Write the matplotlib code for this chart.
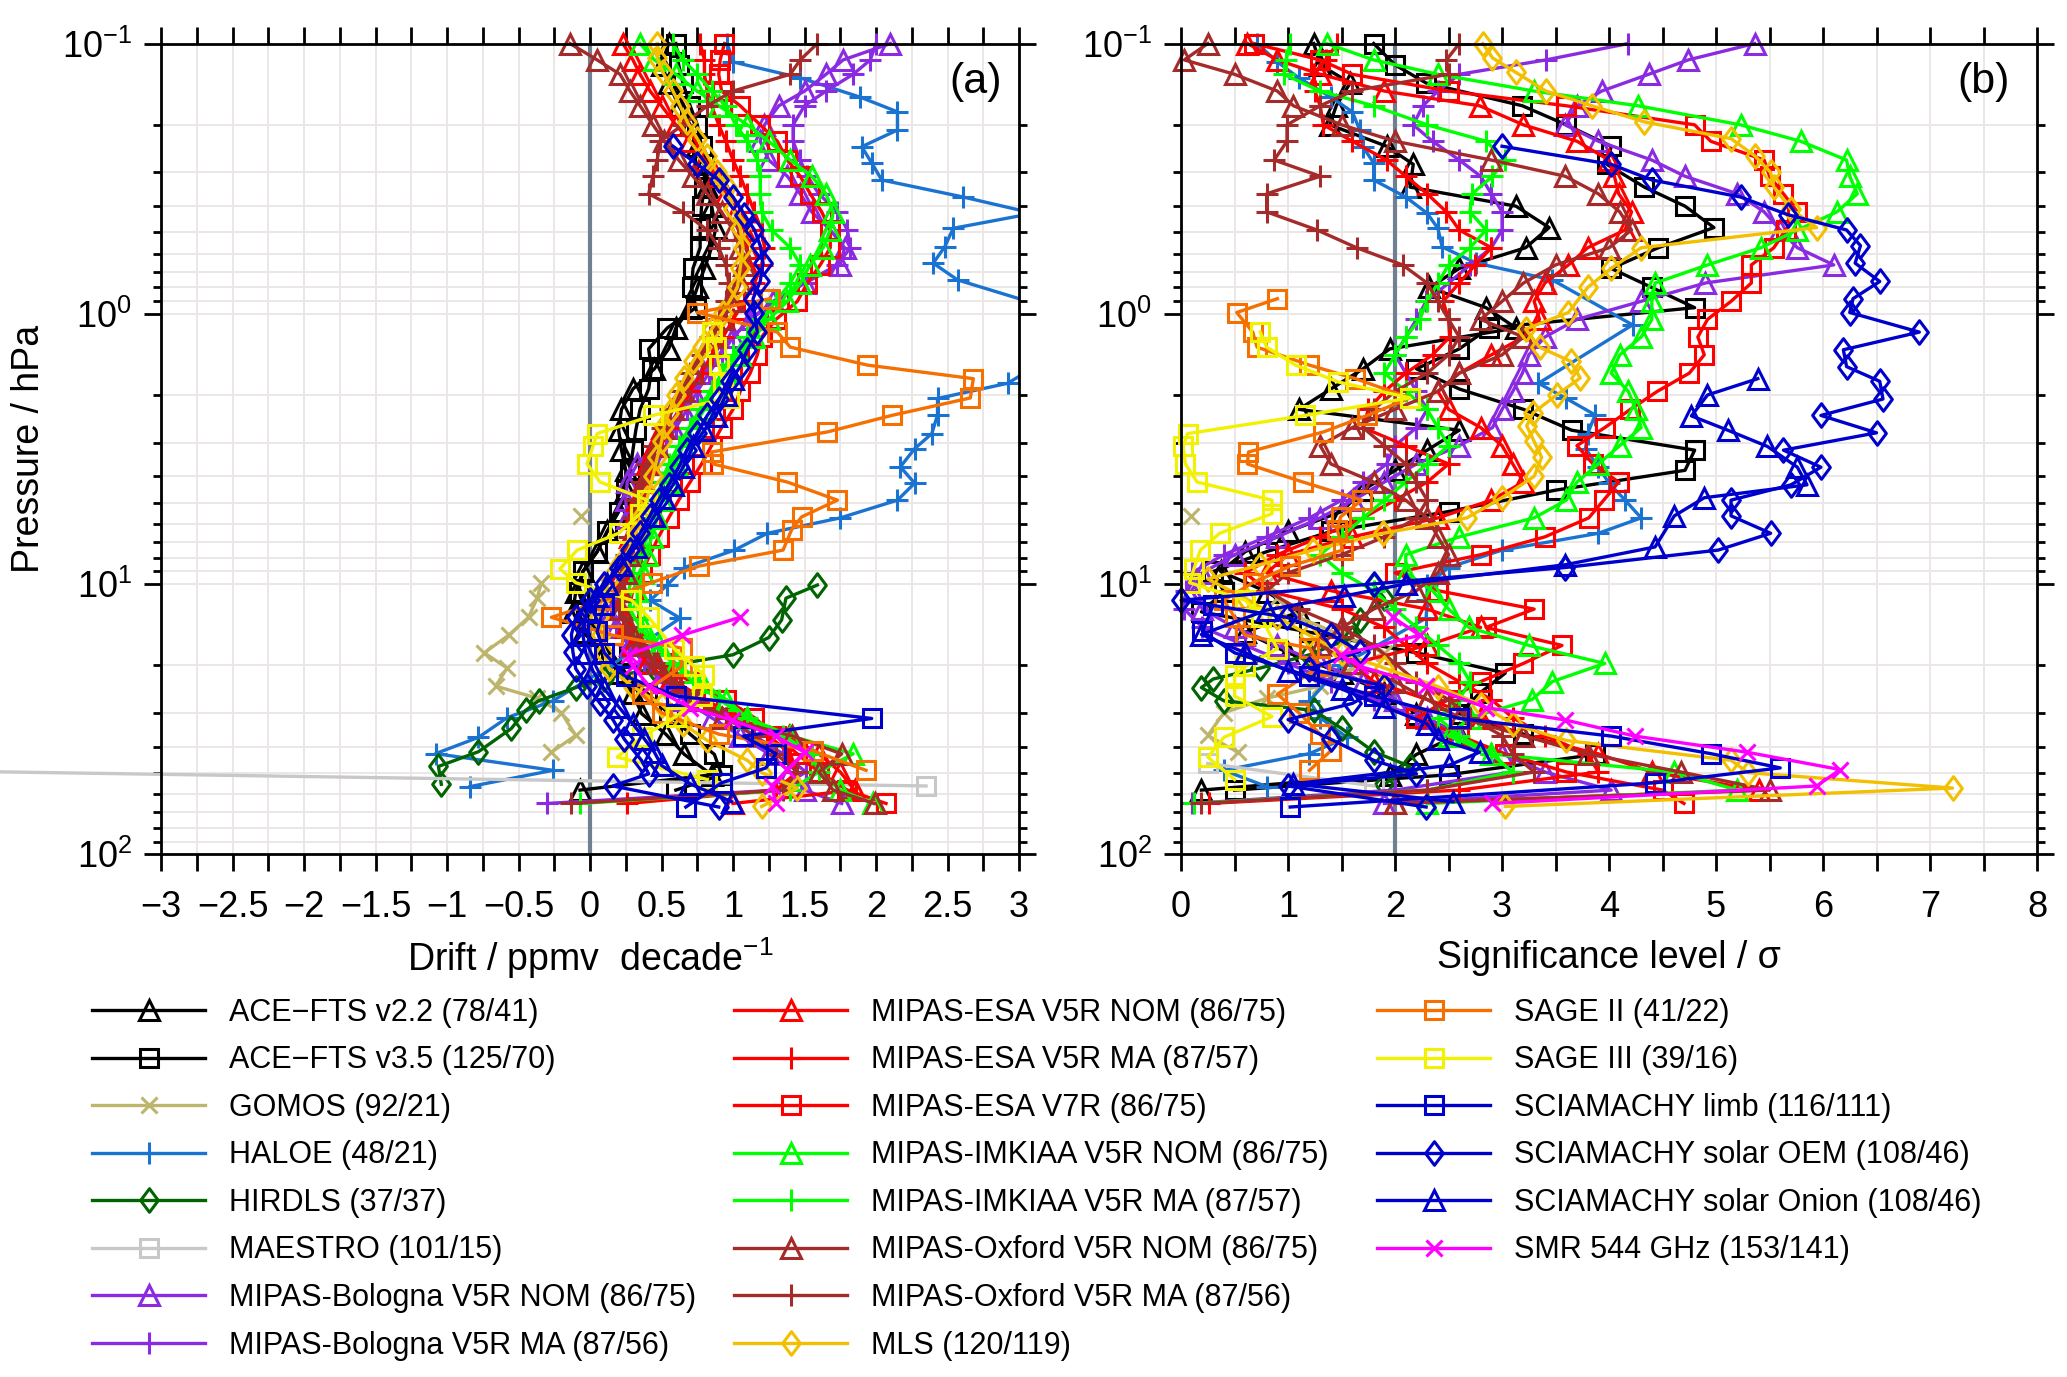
import matplotlib
matplotlib.use('Agg')
import matplotlib.pyplot as plt
import numpy as np
from matplotlib.path import Path
from matplotlib.patches import Rectangle
from matplotlib.ticker import MultipleLocator, FuncFormatter, NullFormatter, LogLocator

nan = np.nan

# MIPAS retrieval levels (hPa), shared by all MIPAS products
p_mipas = [0.1, 0.115, 0.13, 0.15, 0.17, 0.2, 0.23, 0.27, 0.31, 0.36,
           0.42, 0.49, 0.57, 0.66, 0.77, 0.9, 1.05, 1.22, 1.42, 1.66,
           1.94, 2.26, 2.64, 3.08, 3.6, 4.2, 4.9, 5.7, 6.7, 7.8,
           9.1, 10.6, 12.4, 14.5, 16.9, 19.7, 23, 26.8, 31.3, 36.5,
           42.6, 49.7, 58, 65]

# ACE-FTS levels (hPa)
p_ace = [0.1, 0.12, 0.14, 0.17, 0.2, 0.24, 0.28, 0.34, 0.4, 0.48,
         0.57, 0.68, 0.8, 0.95, 1.13, 1.35, 1.6, 1.9, 2.26, 2.7,
         3.2, 3.8, 4.5, 5.4, 6.4, 7.6, 9.0, 10.7, 12.7, 15.1,
         18, 21.4, 25.4, 30.2, 36, 42.8, 50.9, 58]

# drift (ppmv/decade) and significance (sigma) per instrument
ace22_drift = [0.55, 0.5, 0.55, 0.62, 0.7, 0.75, 0.8, 0.82, 0.85, 0.88,
               0.85, 0.8, 0.75, 0.7, 0.6, 0.55, 0.45, 0.3, 0.22, 0.2,
               0.22, 0.25, 0.25, 0.2, 0.12, 0.05, -0.05, -0.1, -0.12, -0.05,
               0.1, 0.2, 0.3, 0.36, 0.53, 0.66, 0.85, -0.07]
ace22_sig = [1.24, 1.3, 1.58, 1.45, 1.39, 1.92, 2.17, 2.14, 3.13, 3.44,
             3.22, 2.6, 2.32, 2.85, 3.13, 1.95, 1.7, 1.4, 1.1, 2.6,
             2.3, 2.0, 1.7, 1.5, 1.0, 0.6, 0.37, 0.8, 1.1, 0.6,
             1.0, 1.5, 1.9, 2.2, 2.6, 2.2, 1.95, 0.19]

ace35_drift = [0.6, 0.62, 0.65, 0.7, 0.75, 0.78, 0.8, 0.8, 0.78, 0.77,
               0.77, 0.72, 0.71, 0.74, 0.54, 0.41, 0.43, 0.41, 0.35, 0.32,
               0.3, 0.28, 0.25, 0.2, 0.12, 0.05, -0.05, -0.08, -0.03, 0.05,
               0.15, 0.25, 0.4, 0.55, 0.7, 0.87, 0.92, 0.6]
ace35_sig = [1.8, 2.0, 2.29, 3.19, 3.6, 4.02, 3.98, 4.33, 4.71, 4.98,
             4.46, 4.02, 4.4, 4.8, 2.88, 2.6, 2.2, 2.6, 3.2, 3.65,
             4.8, 4.71, 3.5, 2.5, 1.4, 0.8, 0.3, 0.4, 0.19, 1.2,
             2.2, 3.03, 2.79, 2.6, 3.2, 3.87, 2.5, 0.5]

p_gomos = [5.6, 7.5, 9.9, 11.3, 13.3, 15.5, 18, 20.5, 23.9, 26.5, 30, 36.4, 42]
gomos_drift = [-0.06, nan, -0.34, -0.37, -0.43, -0.57, -0.74, -0.58, -0.66, -0.37, -0.2, -0.1, -0.27]
gomos_sig = [0.09, nan, 0.8, 0.9, 1.1, 1.5, 1.9, 1.6, 1.3, 0.8, 0.4, 0.25, 0.53]

p_haloe = [0.1, 0.117, 0.134, 0.158, 0.179, 0.209, 0.241, 0.277, 0.32, 0.37,
           0.425, 0.483, 0.566, 0.65, 0.75, 1.1, 1.81, 2.06, 2.37, 2.78,
           3.16, 3.69, 4.24, 4.9, 5.7, 6.5, 7.5, 8.7, 10.1, 11.5,
           13.4, 20, 27.1, 31.3, 37, 42.5, 49, 56.3]
haloe_drift = [0.96, 1.0, 1.47, 1.89, 2.15, 2.15, 1.9, 1.97, 2.04, 2.61,
               3.1, 2.54, 2.48, 2.4, 2.57, 3.6, 2.92, 2.43, 2.43, 2.39,
               2.27, 2.17, 2.27, 2.15, 1.75, 1.24, 1.01, 0.66, 0.54, 0.42,
               0.63, 0.15, -0.26, -0.58, -0.78, -1.08, -0.26, -0.84]
haloe_sig = [0.71, 0.9, 1.1, 1.4, 1.6, 1.67, 1.7, 1.8, 1.8, 2.1,
             2.3, 2.4, 2.44, 2.76, 3.47, 4.22, 3.34, 3.6, 3.87, 3.8,
             3.78, 3.9, 4.0, 4.15, 4.3, 3.9, 3.0, 2.5, 2.3, 2.3,
             2.29, 1.5, 1.2, 1.3, 1.55, 1.2, 0.4, 0.8]

p_hirdls = [10.1, 11.3, 13.6, 15.8, 18.3, 20.5, 22.5, 24.2, 27.1, 29.4, 34.3, 41.8, 47.4, 55.2]
hirdls_drift = [1.59, 1.37, 1.34, 1.25, 1.0, 0.45, 0.1, -0.1, -0.36, -0.45, -0.55, -0.78, -1.06, -1.04]
hirdls_sig = [1.8, 1.9, 1.67, 1.6, 1.2, 0.74, 0.3, 0.19, 0.4, 1.24, 1.5, 1.8, 2.14, 1.9]

p_maestro = [46.2, 56]
maestro_drift = [-8.0, 2.35]
maestro_sig = [0.25, 1.8]

bol_nom_drift = [2.1, 1.77, 1.65, 1.5, 1.32, 1.22, 1.19, 1.25, 1.38, 1.47,
                 1.55, 1.68, 1.78, 1.75, 1.5, 1.28, 1.12, 1.0, 0.9, 0.8,
                 0.72, 0.65, 0.58, 0.45, 0.33, 0.26, 0.25, 0.26, 0.28, 0.28,
                 0.25, 0.2, 0.16, 0.18, 0.28, 0.38, 0.5, 0.65, 0.85, 1.05,
                 1.25, 1.4, 1.5, 1.76]
bol_nom_sig = [5.36, 4.74, 4.37, 3.93, 3.7, 3.59, 3.9, 4.4, 4.71, 5.2,
               5.45, 5.6, 5.76, 6.1, 4.9, 4.3, 3.7, 3.4, 3.25, 3.19,
               3.1, 3.0, 2.91, 2.6, 2.2, 1.9, 1.61, 1.3, 0.9, 0.5,
               0.2, 0.1, 0.2, 0.5, 0.9, 1.3, 1.7, 2.0, 2.3, 2.6,
               3.0, 3.4, 4.02, 1.9]

bol_ma_drift = [2.0, 1.96, 1.84, 1.65, 1.5, 1.42, 1.42, 1.47, 1.52, 1.6,
                1.73, 1.8, 1.82, 1.73, 1.5, 1.3, 1.12, 1.0, 0.92, 0.83,
                0.75, 0.68, 0.6, 0.53, 0.47, 0.42, 0.37, 0.33, 0.3, 0.27,
                0.23, 0.2, 0.15, 0.18, 0.27, 0.38, 0.52, 0.72, 0.95, 1.15,
                1.35, 1.51, 1.3, -0.3]
bol_ma_sig = [4.18, 3.41, 2.6, 2.4, 2.26, 2.17, 2.35, 2.6, 2.8, 2.9,
              3.0, 3.0, 2.9, 2.7, 2.5, 2.29, 2.2, 2.1, 2.0, 2.1,
              2.2, 2.3, 2.2, 2.0, 1.92, 1.7, 1.5, 1.2, 0.8, 0.4,
              0.1, 0.05, 0.03, 0.2, 0.6, 1.0, 1.4, 1.8, 2.2, 2.5,
              2.9, 3.1, 2.0, 0.1]

esa_nom_drift = [0.23, 0.3, 0.35, 0.42, 0.5, 0.6, 0.7, 0.8, 0.88, 0.95,
                 1.02, 1.08, 1.1, 1.1, 1.05, 0.98, 0.92, 0.85, 0.78, 0.72,
                 0.65, 0.58, 0.5, 0.45, 0.4, 0.37, 0.33, 0.3, 0.28, 0.25,
                 0.22, 0.2, 0.2, 0.25, 0.3, 0.4, 0.55, 0.75, 1.0, 1.39,
                 1.6, 1.75, 1.85, 1.0]
esa_nom_sig = [0.62, 0.9, 1.3, 1.9, 2.79, 3.2, 3.7, 4.0, 4.05, 4.09,
               4.21, 4.15, 3.8, 3.62, 3.4, 3.3, 3.35, 3.2, 2.9, 2.6,
               2.4, 2.5, 2.8, 3.0, 3.1, 3.2, 2.9, 2.4, 1.6, 1.0,
               0.8, 1.4, 2.3, 2.8, 2.3, 1.6, 1.8, 2.3, 2.8, 3.2,
               3.9, 4.4, 5.4, 2.0]

esa_ma_drift = [0.77, 0.8, 0.8, 0.82, 0.85, 0.9, 0.95, 1.0, 1.05, 1.1,
                1.15, 1.2, 1.22, 1.2, 1.15, 1.08, 1.0, 0.93, 0.85, 0.78,
                0.7, 0.63, 0.55, 0.5, 0.45, 0.4, 0.37, 0.33, 0.3, 0.28,
                0.25, 0.22, 0.22, 0.27, 0.35, 0.45, 0.6, 0.8, 1.05, 1.25,
                1.4, 1.45, 1.3, 0.26]
esa_ma_sig = [1.46, 1.35, 1.24, 1.25, 1.3, 1.33, 1.6, 1.92, 2.1, 2.3,
              2.48, 2.6, 2.9, 2.75, 2.6, 2.45, 2.5, 2.51, 2.35, 2.1,
              1.9, 1.75, 1.7, 2.1, 2.5, 2.3, 2.0, 1.7, 1.3, 0.9,
              0.6, 0.8, 1.5, 1.9, 2.1, 2.3, 2.6, 2.9, 3.1, 3.4,
              3.8, 3.9, 2.6, 0.26]

esa_v7_drift = [0.94, 0.91, 0.9, 0.92, 1.05, 1.19, 1.31, 1.38, 1.47, 1.54,
                1.62, 1.68, 1.68, 1.61, 1.52, 1.45, 1.3, 1.2, 1.17, 1.12,
                1.05, 1.0, 0.92, 0.85, 0.78, 0.7, 0.62, 0.55, 0.48, 0.42,
                0.36, 0.3, 0.27, 0.3, 0.37, 0.5, 0.7, 0.95, 1.15, 1.3,
                1.45, 1.6, 1.8, 2.07]
esa_v7_sig = [0.68, 1.3, 1.6, 2.5, 3.6, 4.8, 4.95, 5.45, 5.5, 5.63,
              5.76, 5.65, 5.54, 5.33, 5.33, 5.14, 4.92, 4.83, 4.89, 4.75,
              4.45, 4.2, 3.96, 3.7, 3.85, 4.09, 3.95, 3.81, 3.4, 2.8,
              2.0, 2.4, 3.3, 2.85, 3.56, 3.2, 2.8, 2.5, 2.2, 2.6,
              3.03, 3.6, 4.5, 4.7]

imk_nom_drift = [0.35, 0.45, 0.6, 0.75, 0.9, 1.1, 1.25, 1.4, 1.55, 1.65,
                 1.7, 1.68, 1.63, 1.54, 1.47, 1.38, 1.25, 1.15, 1.05, 0.95,
                 0.87, 0.8, 0.72, 0.65, 0.6, 0.55, 0.5, 0.47, 0.43, 0.4,
                 0.37, 0.33, 0.33, 0.38, 0.48, 0.6, 0.78, 0.95, 1.1, 1.4,
                 1.84, 1.6, 1.75, 1.98]
imk_nom_sig = [1.36, 1.8, 2.4, 3.3, 4.27, 5.23, 5.79, 6.22, 6.25, 6.32,
               6.13, 5.76, 5.42, 4.92, 4.43, 4.4, 4.4, 4.3, 4.1, 4.02,
               4.18, 4.25, 4.3, 4.1, 3.9, 3.7, 3.6, 3.3, 2.6, 2.1,
               2.1, 2.35, 2.5, 2.69, 3.25, 3.96, 3.47, 3.28, 2.7, 2.5,
               2.9, 4.61, 5.2, 2.3]

imk_ma_drift = [0.58, 0.65, 0.75, 0.85, 0.95, 1.02, 1.1, 1.17, 1.19, 1.19,
                1.2, 1.27, 1.4, 1.47, 1.4, 1.3, 1.2, 1.1, 1.0, 0.92,
                0.85, 0.77, 0.7, 0.62, 0.55, 0.5, 0.46, 0.42, 0.38, 0.34,
                0.3, 0.27, 0.28, 0.35, 0.45, 0.58, 0.72, 0.9, 1.1, 1.35,
                1.55, 1.6, 1.4, -0.07]
imk_ma_sig = [1.02, 0.98, 0.96, 1.3, 1.8, 2.3, 2.85, 3.03, 2.91, 2.72,
              2.7, 2.85, 2.7, 2.5, 2.4, 2.3, 2.23, 2.1, 2.0, 1.9,
              2.1, 2.3, 2.4, 2.5, 2.3, 2.1, 1.9, 1.7, 1.5, 1.3,
              1.5, 1.8, 2.0, 2.2, 2.4, 2.6, 2.7, 2.6, 2.4, 2.6,
              2.9, 3.1, 2.3, 0.12]

oxf_nom_drift = [-0.14, 0.05, 0.21, 0.28, 0.35, 0.44, 0.52, 0.62, 0.72, 0.82,
                 0.92, 1.0, 1.05, 1.08, 1.05, 1.0, 0.93, 0.85, 0.78, 0.72,
                 0.65, 0.58, 0.52, 0.47, 0.42, 0.38, 0.35, 0.32, 0.3, 0.27,
                 0.25, 0.22, 0.22, 0.27, 0.35, 0.47, 0.6, 0.75, 0.92, 1.41,
                 1.76, 1.6, 1.7, 1.99]
oxf_nom_sig = [0.25, 0.03, 0.5, 0.9, 1.05, 1.5, 2.0, 2.9, 3.59, 3.9,
               4.1, 4.21, 4.0, 3.5, 3.2, 3.0, 2.8, 3.2, 3.0, 2.6,
               2.4, 2.0, 1.6, 1.3, 1.4, 1.8, 2.1, 2.3, 2.4, 2.5,
               2.4, 2.2, 1.8, 1.5, 1.3, 1.6, 2.0, 2.3, 2.6, 3.2,
               3.8, 4.67, 5.5, 2.0]

oxf_ma_drift = [1.59, 1.47, 1.4, 1.0, 0.82, 0.65, 0.49, 0.47, 0.44, 0.41,
                0.65, 0.82, 0.9, 0.95, 0.97, 0.95, 0.9, 0.84, 0.78, 0.7,
                0.63, 0.56, 0.5, 0.45, 0.4, 0.36, 0.32, 0.3, 0.27, 0.25,
                0.22, 0.2, 0.2, 0.25, 0.33, 0.45, 0.58, 0.75, 0.95, 1.15,
                1.3, 1.45, 1.35, -0.13]
oxf_ma_sig = [2.6, 2.48, 2.5, 1.6, 1.3, 0.99, 0.99, 0.87, 1.3, 0.8,
              0.8, 1.27, 1.64, 2.07, 2.3, 2.4, 2.5, 2.6, 2.5, 2.3,
              2.0, 1.8, 1.7, 1.9, 2.1, 2.2, 2.3, 2.2, 1.9, 1.5,
              1.0, 0.8, 1.1, 1.5, 1.8, 2.0, 2.2, 2.5, 2.7, 3.0,
              3.1, 3.3, 2.3, 0.19]

p_mls = [0.1, 0.113, 0.128, 0.15, 0.17, 0.195, 0.225, 0.26, 0.3, 0.34,
         0.41, 0.48, 0.57, 0.68, 0.8, 0.99, 1.14, 1.33, 1.5, 1.73,
         2.0, 2.33, 2.6, 2.97, 3.4, 4.0, 4.8, 5.7, 6.5, 7.5,
         8.5, 9.6, 11.3, 13.3, 15.5, 18, 20.5, 24, 28, 33,
         38, 45, 50, 57, 66.7]
mls_drift = [0.47, 0.47, 0.51, 0.58, 0.63, 0.68, 0.75, 0.82, 0.89, 0.96,
             1.0, 1.05, 1.07, 1.05, 1.03, 0.93, 0.85, 0.78, 0.72, 0.66,
             0.6, 0.55, 0.52, 0.5, 0.47, 0.44, 0.4, 0.35, 0.32, 0.27,
             0.2, 0.14, 0.08, 0.06, 0.08, 0.1, 0.13, 0.3, 0.5, 0.65,
             0.82, 1.1, 1.2, 1.45, 1.2]
mls_sig = [2.82, 2.91, 3.13, 3.41, 3.84, 4.33, 5.14, 5.36, 5.51, 5.54,
           5.7, 5.94, 4.3, 4.02, 3.8, 3.62, 3.22, 3.35, 3.64, 3.73,
           3.51, 3.29, 3.23, 3.3, 3.37, 3.3, 3.0, 2.67, 1.89, 1.23,
           0.74, 0.25, 0.6, 0.9, 1.2, 1.5, 1.9, 2.4, 2.8, 3.1,
           3.6, 5.14, 5.3, 7.21, 3.03]

p_sage2 = [0.88, 0.99, 1.17, 1.33, 1.55, 1.74, 2.05, 2.38, 2.74, 3.25,
           3.6, 4.2, 4.9, 5.65, 6.3, 7.5, 8.6, 9.9, 11.5, 13.3,
           15.5, 17.3, 20.2, 25.6, 30, 36, 41.5, 49]
sage2_drift = [1.26, 0.75, 1.31, 1.4, 1.94, 2.68, 2.66, 2.11, 1.66, 0.85,
               0.86, 1.38, 1.73, 1.48, 1.41, 1.35, 0.76, 0.43, 0.1, -0.27,
               0.16, 0.64, 0.64, 0.36, 0.5, 0.9, 1.56, 1.93]
sage2_sig = [0.9, 0.52, 0.67, 0.71, 1.2, 1.63, 2.14, 1.74, 1.33, 0.63,
             0.62, 1.14, 1.69, 1.49, 1.46, 1.51, 1.02, 0.67, 0.4, 0.5,
             0.6, 1.2, 1.3, 0.9, 1.1, 1.3, 1.4, 1.2]

p_sage3 = [1.17, 1.33, 1.55, 1.79, 2.05, 2.38, 2.78, 3.1, 3.6, 4.2,
           4.9, 5.5, 6.5, 7.5, 8.8, 9.9, 11.5, 13.3, 17.4, 20.2,
           21.8, 26, 31, 37, 43.8, 53]
sage3_drift = [0.85, 0.88, 0.9, 0.93, 0.97, 0.44, 0.05, 0.02, -0.02, 0.07,
               0.4, 0.35, 0.2, -0.09, -0.21, -0.1, 0.29, 0.41, 0.59, 0.73,
               0.8, 0.78, 0.6, 0.36, 0.19, 0.82]
sage3_sig = [0.74, 0.8, 1.07, 1.47, 2.14, 1.16, 0.06, 0.02, 0.04, 0.15,
             0.85, 0.85, 0.36, 0.18, 0.12, 0.08, 0.6, 0.75, 0.9, 0.6,
             0.5, 0.5, 0.85, 0.4, 0.25, 0.5]

p_limb = [12, 15, 18, 22, 26, 31.5, 36.6, 42.5, 48, 54.5, 67]
limb_drift = [0.1, 0.05, 0.1, 0.25, 0.6, 1.97, 1.07, 1.3, 1.23, 0.92, 0.67]
limb_sig = [0.3, 0.2, 0.5, 1.2, 1.8, 2.6, 4.02, 4.95, 5.6, 4.43, 1.02]

p_oem = [0.24, 0.28, 0.32, 0.37, 0.43, 0.49, 0.56, 0.65, 0.76, 0.88,
         0.99, 1.17, 1.36, 1.57, 1.78, 2.07, 2.38, 2.76, 3.2, 3.7,
         4.3, 4.9, 5.6, 6.5, 7.5, 8.7, 10, 11.5, 13.3, 15.4,
         17.8, 20.6, 23.9, 27.7, 31.8, 37.6, 45, 50.5, 56, 67]
oem_drift = [0.58, 0.75, 0.9, 1.0, 1.08, 1.15, 1.19, 1.21, 1.19, 1.14,
             1.15, 1.17, 1.1, 1.05, 0.98, 0.9, 0.82, 0.75, 0.68, 0.62,
             0.55, 0.48, 0.42, 0.35, 0.28, 0.2, 0.1, 0.0, -0.1, -0.13,
             -0.12, -0.1, -0.02, 0.07, 0.16, 0.24, 0.36, 0.41, 0.16, 0.9]
oem_sig = [3.0, 4.02, 4.4, 5.23, 5.67, 6.22, 6.35, 6.3, 6.53, 6.28,
           6.25, 6.9, 6.19, 6.22, 6.53, 6.56, 5.98, 6.5, 5.63, 5.98,
           5.7, 5.14, 5.14, 5.51, 5.02, 3.59, 1.8, 0.0, 0.99, 1.4,
           1.67, 1.2, 1.9, 1.6, 1.0, 1.4, 1.8, 2.2, 1.0, 2.29]

p_onion = [1.74, 2.0, 2.39, 2.7, 3.1, 3.7, 4.3, 4.8, 5.6, 7.3,
           8.5, 10, 11.1, 12.5, 15.4, 18, 21, 24.5, 28.5, 33,
           37.5, 42, 47, 55, 64]
onion_drift = [1.0, 0.95, 0.88, 0.8, 0.72, 0.65, 0.58, 0.52, 0.45, 0.32,
               0.22, 0.12, 0.05, -0.02, -0.05, -0.03, 0.02, 0.1, 0.2, 0.3,
               0.38, 0.45, 0.5, 0.7, 0.99]
onion_sig = [5.39, 4.92, 4.77, 5.11, 5.48, 5.76, 5.85, 4.89, 4.61, 4.43,
             3.59, 2.1, 1.52, 0.8, 0.19, 0.6, 1.0, 1.5, 1.9, 2.3,
             2.4, 2.79, 2.5, 1.05, 2.54]

p_smr = [13.3, 15.5, 18.3, 20.2, 23.8, 28.7, 31.9, 36.6, 42, 48.7, 56, 65]
smr_drift = [1.05, 0.64, 0.27, 0.3, 0.41, 0.7, 0.99, 1.3, 1.5, 1.38, 1.27, 1.3]
smr_sig = [1.98, 2.23, 1.49, 1.67, 2.29, 2.85, 3.59, 4.24, 5.29, 6.16, 5.94, 2.91]

# 菱形マーカー (縦長)
DIAMOND = Path([(0, 1), (0.75, 0), (0, -1), (-0.75, 0), (0, 1)],
               [Path.MOVETO, Path.LINETO, Path.LINETO, Path.LINETO, Path.CLOSEPOLY])

C_SCIA = '#0000cd'


def fmt_tick(v, pos):
    return f'{v:g}'.replace('-', '\u2212')


def main():
    plt.rcParams['font.family'] = ['Liberation Sans', 'DejaVu Sans']
    plt.rcParams['mathtext.fontset'] = 'custom'
    plt.rcParams['mathtext.rm'] = 'Liberation Sans'
    plt.rcParams['mathtext.it'] = 'Liberation Sans:italic'

    # (label, pressure, drift, sigma, colour, marker, size, clip x)
    series = [
        ('ACE\u2212FTS v2.2 (78/41)', p_ace, ace22_drift, ace22_sig, 'black', '^', 15, False),
        ('ACE\u2212FTS v3.5 (125/70)', p_ace, ace35_drift, ace35_sig, 'black', 's', 12.5, False),
        ('GOMOS (92/21)', p_gomos, gomos_drift, gomos_sig, '#bdb56c', 'x', 11, False),
        ('HALOE (48/21)', p_haloe, haloe_drift, haloe_sig, '#1a73d0', '+', 16, True),
        ('HIRDLS (37/37)', p_hirdls, hirdls_drift, hirdls_sig, '#006400', DIAMOND, 17, False),
        ('MAESTRO (101/15)', p_maestro, maestro_drift, maestro_sig, '#c8c8c8', 's', 12.5, False),
        ('MIPAS-Bologna V5R NOM (86/75)', p_mipas, bol_nom_drift, bol_nom_sig, '#8a2be2', '^', 15, False),
        ('MIPAS-Bologna V5R MA (87/56)', p_mipas, bol_ma_drift, bol_ma_sig, '#8a2be2', '+', 16, False),
        ('MIPAS-ESA V5R NOM (86/75)', p_mipas, esa_nom_drift, esa_nom_sig, '#ff0000', '^', 15, False),
        ('MIPAS-ESA V5R MA (87/57)', p_mipas, esa_ma_drift, esa_ma_sig, '#ff0000', '+', 16, False),
        ('MIPAS-ESA V7R (86/75)', p_mipas, esa_v7_drift, esa_v7_sig, '#ff0000', 's', 12.5, False),
        ('MIPAS-IMKIAA V5R NOM (86/75)', p_mipas, imk_nom_drift, imk_nom_sig, '#00ff00', '^', 15, False),
        ('MIPAS-IMKIAA V5R MA (87/57)', p_mipas, imk_ma_drift, imk_ma_sig, '#00ff00', '+', 16, False),
        ('MIPAS-Oxford V5R NOM (86/75)', p_mipas, oxf_nom_drift, oxf_nom_sig, '#a52a2a', '^', 15, False),
        ('MIPAS-Oxford V5R MA (87/56)', p_mipas, oxf_ma_drift, oxf_ma_sig, '#a52a2a', '+', 16, False),
        ('MLS (120/119)', p_mls, mls_drift, mls_sig, '#f2c000', DIAMOND, 17, False),
        ('SAGE II (41/22)', p_sage2, sage2_drift, sage2_sig, '#f57000', 's', 12.5, False),
        ('SAGE III (39/16)', p_sage3, sage3_drift, sage3_sig, '#f2f200', 's', 12.5, False),
        ('SCIAMACHY limb (116/111)', p_limb, limb_drift, limb_sig, C_SCIA, 's', 12.5, False),
        ('SCIAMACHY solar OEM (108/46)', p_oem, oem_drift, oem_sig, C_SCIA, DIAMOND, 17, False),
        ('SCIAMACHY solar Onion (108/46)', p_onion, onion_drift, onion_sig, C_SCIA, '^', 15, False),
        ('SMR 544 GHz (153/141)', p_smr, smr_drift, smr_sig, '#ff00ff', 'x', 11, False),
    ]

    fig = plt.figure(figsize=(20.67, 13.77), dpi=100)
    ax_a = fig.add_axes([0.0779, 0.3798, 0.4151, 0.5886])
    ax_b = fig.add_axes([0.5714, 0.3798, 0.4141, 0.5886])

    for ax in (ax_a, ax_b):
        ax.set_yscale('log')
        ax.set_ylim(100, 0.1)
        ax.yaxis.set_major_locator(LogLocator(base=10, numticks=10))
        ax.yaxis.set_minor_locator(LogLocator(base=10, subs=np.arange(2, 10), numticks=10))
        ax.yaxis.set_minor_formatter(NullFormatter())
        ax.xaxis.set_major_formatter(FuncFormatter(fmt_tick))
        ax.grid(True, which='both', color='#ebe5e5', linewidth=1.3)
        ax.set_axisbelow(True)
        ax.tick_params(which='both', direction='out', top=True, right=True, width=2, labelsize=26)
        ax.tick_params(axis='x', which='both', length=12, pad=14)
        ax.tick_params(axis='y', which='major', length=12, pad=9)
        ax.tick_params(axis='y', which='minor', length=6)
        for sp in ax.spines.values():
            sp.set_linewidth(2)

    ax_a.set_xlim(-3, 3)
    ax_a.xaxis.set_major_locator(MultipleLocator(0.5))
    ax_a.xaxis.set_minor_locator(MultipleLocator(0.25))
    ax_b.set_xlim(0, 8)
    ax_b.xaxis.set_major_locator(MultipleLocator(1))
    ax_b.xaxis.set_minor_locator(MultipleLocator(0.5))

    # 基準線
    ax_a.axvline(0, color='#708090', lw=3, zorder=1.5)
    ax_b.axvline(2, color='#708090', lw=3, zorder=1.5)

    handles = []
    for label, p, drift, sig, color, marker, ms, clip_x in series:
        style = dict(color=color, marker=marker, markersize=ms, mfc='none',
                     mew=2.2, lw=2.4, clip_on=clip_x)
        la, = ax_a.plot(drift, p, label=label, **style)
        lb, = ax_b.plot(sig, p, **style)
        if clip_x:
            # 横方向だけクリップ (上端のマーカーは見せる)
            la.set_clip_path(Rectangle((0, -0.05), 1, 1.1, transform=ax_a.transAxes))
            lb.set_clip_path(Rectangle((0, -0.05), 1, 1.1, transform=ax_b.transAxes))
        handles.append(la)

    ax_a.text(0.98, 0.952, '(a)', transform=ax_a.transAxes, ha='right', va='center', fontsize=31)
    ax_b.text(0.968, 0.952, '(b)', transform=ax_b.transAxes, ha='right', va='center', fontsize=31)

    ax_a.text(0.5, -0.128, 'Drift / ppmv  decade$^{-1}$', transform=ax_a.transAxes,
              ha='center', va='center', fontsize=27)
    ax_b.text(0.5, -0.128, 'Significance level / \u03c3', transform=ax_b.transAxes,
              ha='center', va='center', fontsize=27)
    ax_a.text(-0.154, 0.5, 'Pressure / hPa', transform=ax_a.transAxes, rotation=90,
              ha='center', va='center', fontsize=27)

    # 凡例は3列に分けて配置
    leg_kw = dict(loc='upper left', frameon=False, fontsize=22, handlelength=3.7,
                  handletextpad=0.78, labelspacing=0.575, borderpad=0, borderaxespad=0)
    for (i0, i1), x0 in zip([(0, 8), (8, 16), (16, 22)], [0.0445, 0.3551, 0.6662]):
        fig.legend(handles=handles[i0:i1], bbox_to_anchor=(x0, 0.2755), **leg_kw)

    fig.savefig('out.png', dpi=100)
    plt.close(fig)


if __name__ == '__main__':
    main()
